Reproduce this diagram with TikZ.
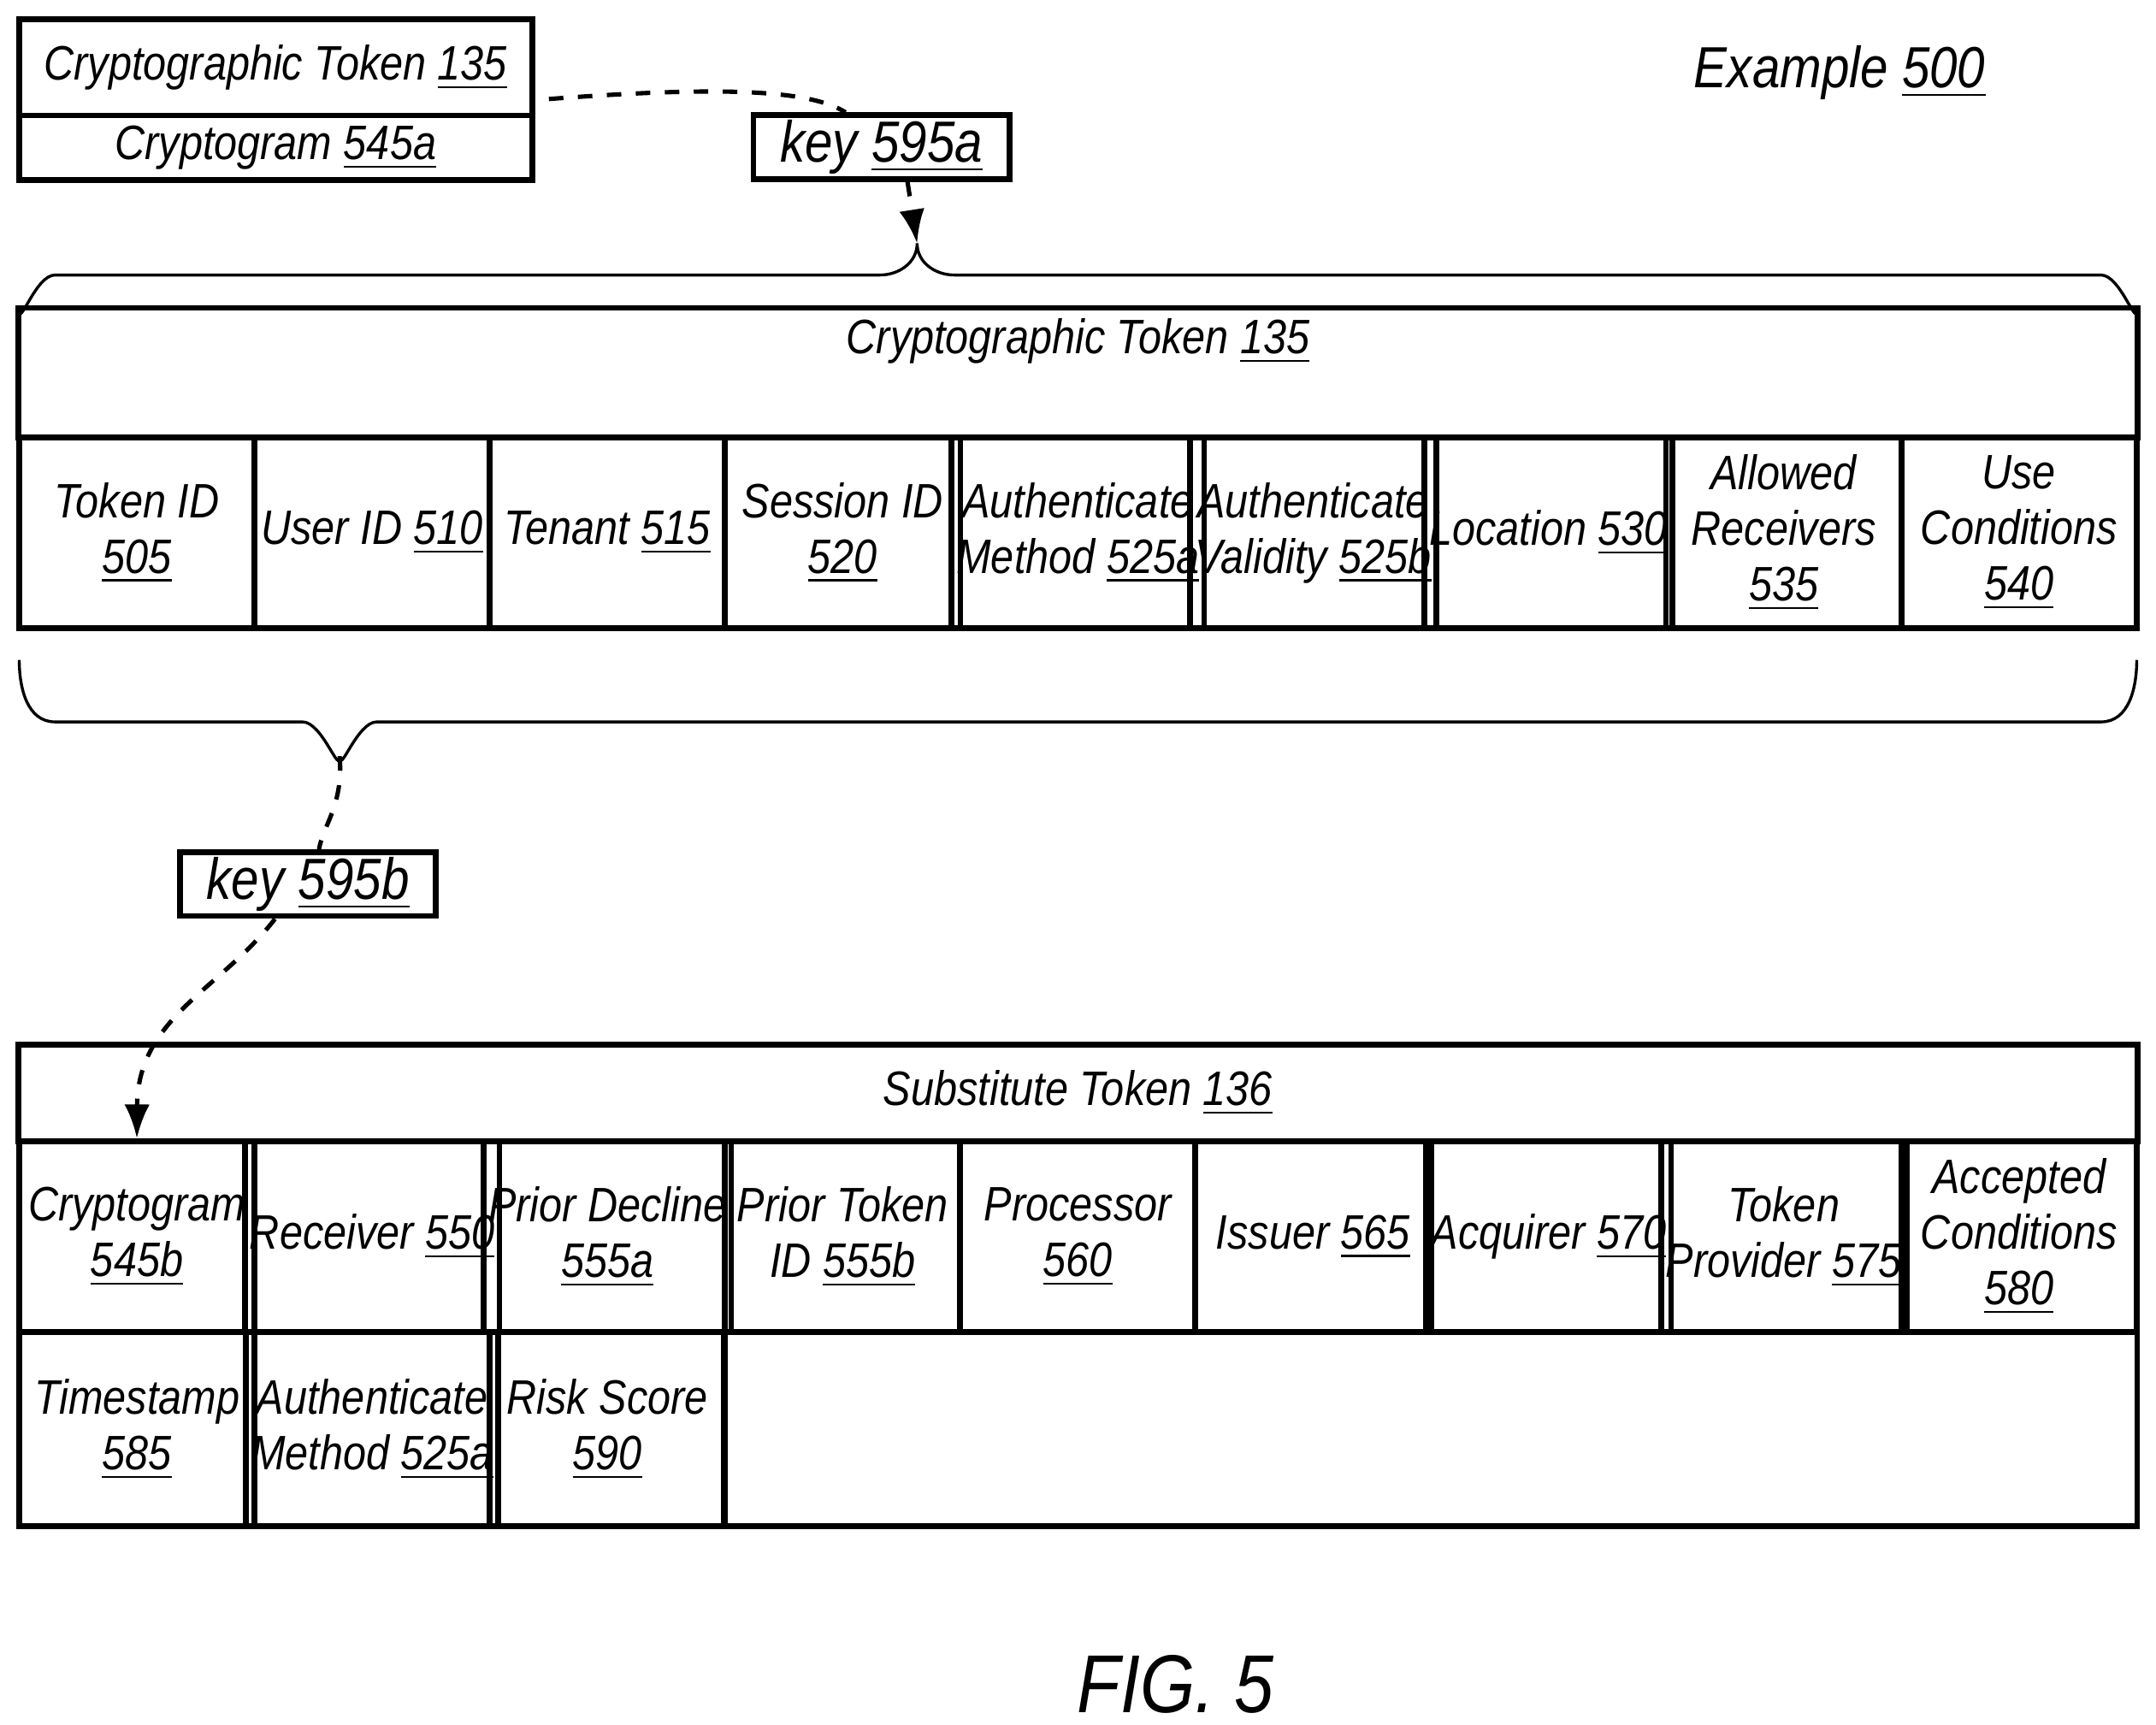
\documentclass[tikz,border=0pt]{standalone}
\usepackage{fontspec}
\setmainfont{Liberation Sans}[FakeStretch=0.86]
\usetikzlibrary{arrows.meta}
\newcommand{\refn}[1]{\underline{#1}}
\tikzset{
  box/.style={draw, line width=1.2pt, align=center, inner sep=1pt},
  cell/.style={box, minimum width=1.711cm, minimum height=1.39cm},
  link/.style={dashed, line width=0.9pt},
  brace/.style={line width=0.6pt}
}
\begin{document}
\begin{tikzpicture}[x=0.01cm, y=-0.01cm, font=\fontsize{10}{11.5}\selectfont\itshape]
\useasboundingbox (0,0) rectangle (1568,1254);
% top token
\node[box, minimum width=3.73cm, minimum height=0.70cm] (ctok) at (200.5,49) {Cryptographic Token \refn{135}};
\node[box, minimum width=3.73cm, minimum height=0.47cm] (cgram) at (200.5,107.5) {Cryptogram \refn{545a}};
\node[box, minimum width=1.86cm, minimum height=0.46cm, font=\fontsize{12}{14}\selectfont\itshape] (keya) at (641,107) {key \refn{595a}};
\node[font=\fontsize{12}{14}\selectfont\itshape] (example) at (1338,53) {Example \refn{500}};
% upper brace
\coordinate (tipa) at (667,177);
\draw[brace] (14,225) to[out=-90,in=180] (40,200) -- (640,200) to[out=0,in=-90] (tipa)
  to[out=-90,in=180] (694,200) -- (1528,200) to[out=0,in=-90] (1554,225);
\draw[link] ([xshift=0.1cm,yshift=-0.23cm]ctok.east) .. controls (530,62) and (590,66) .. ([xshift=-0.26cm]keya.north);
\draw[link, -{Latex[length=7pt]}] ([xshift=0.19cm]keya.south) -- (tipa);
% cryptographic token
\node[box, minimum width=15.4cm, minimum height=0.94cm] (tokhead) at (784,271) {};
\node (tokname) at (784,248) {Cryptographic Token \refn{135}};
\foreach \i/\txt in {0/Token ID\\\refn{505}, 1/User ID \refn{510}, 2/Tenant \refn{515},
  3/Session ID\\\refn{520}, 4/Authenticate\\Method \refn{525a}, 5/Authenticate\\Validity \refn{525b},
  6/Location \refn{530}, 7/Allowed\\Receivers\\\refn{535}, 8/Use\\Conditions\\\refn{540}}
  \node[cell] (t\i) at ({14+171.1*(\i+0.5)},387.5) {\txt};
% lower brace
\coordinate (tipb) at (247,550);
\draw[brace] (14,480) to[out=-90,in=180] (40,525) -- (220,525) to[out=0,in=-90] (tipb)
  to[out=-90,in=180] (274,525) -- (1528,525) to[out=0,in=-90] (1554,480);
\node[box, minimum width=1.86cm, minimum height=0.46cm, font=\fontsize{12}{14}\selectfont\itshape] (keyb) at (224,643) {key \refn{595b}};
\draw[link] (tipb) .. controls (250,585) and (235,600) .. ([xshift=0.08cm]keyb.north);
% substitute token
\node[box, minimum width=15.4cm, minimum height=0.70cm] (subhead) at (784,795) {Substitute Token \refn{136}};
\foreach \i/\txt in {0/Cryptogram\\\refn{545b}, 1/Receiver \refn{550}, 2/Prior Decline\\\refn{555a},
  3/Prior Token\\ID \refn{555b}, 4/Processor\\\refn{560}, 5/Issuer \refn{565},
  6/Acquirer \refn{570}, 7/Token\\Provider \refn{575}, 8/Accepted\\Conditions\\\refn{580}}
  \node[cell] (s\i) at ({14+171.1*(\i+0.5)},899.5) {\txt};
\foreach \i/\txt in {0/Timestamp\\\refn{585}, 1/Authenticate\\Method \refn{525a}, 2/Risk Score\\\refn{590}}
  \node[cell, minimum height=1.41cm] (r\i) at ({14+171.1*(\i+0.5)},1039.5) {\txt};
\node[box, minimum width=10.27cm, minimum height=1.41cm] (rest) at (1040.5,1039.5) {};
\draw[link, -{Latex[length=7pt]}] ([xshift=-0.24cm]keyb.south) .. controls (160,720) and (100,740) .. (s0.north);
\node[font=\fontsize{17}{20}\selectfont\itshape] (fig) at (855,1225) {FIG. 5};
\end{tikzpicture}
\end{document}
